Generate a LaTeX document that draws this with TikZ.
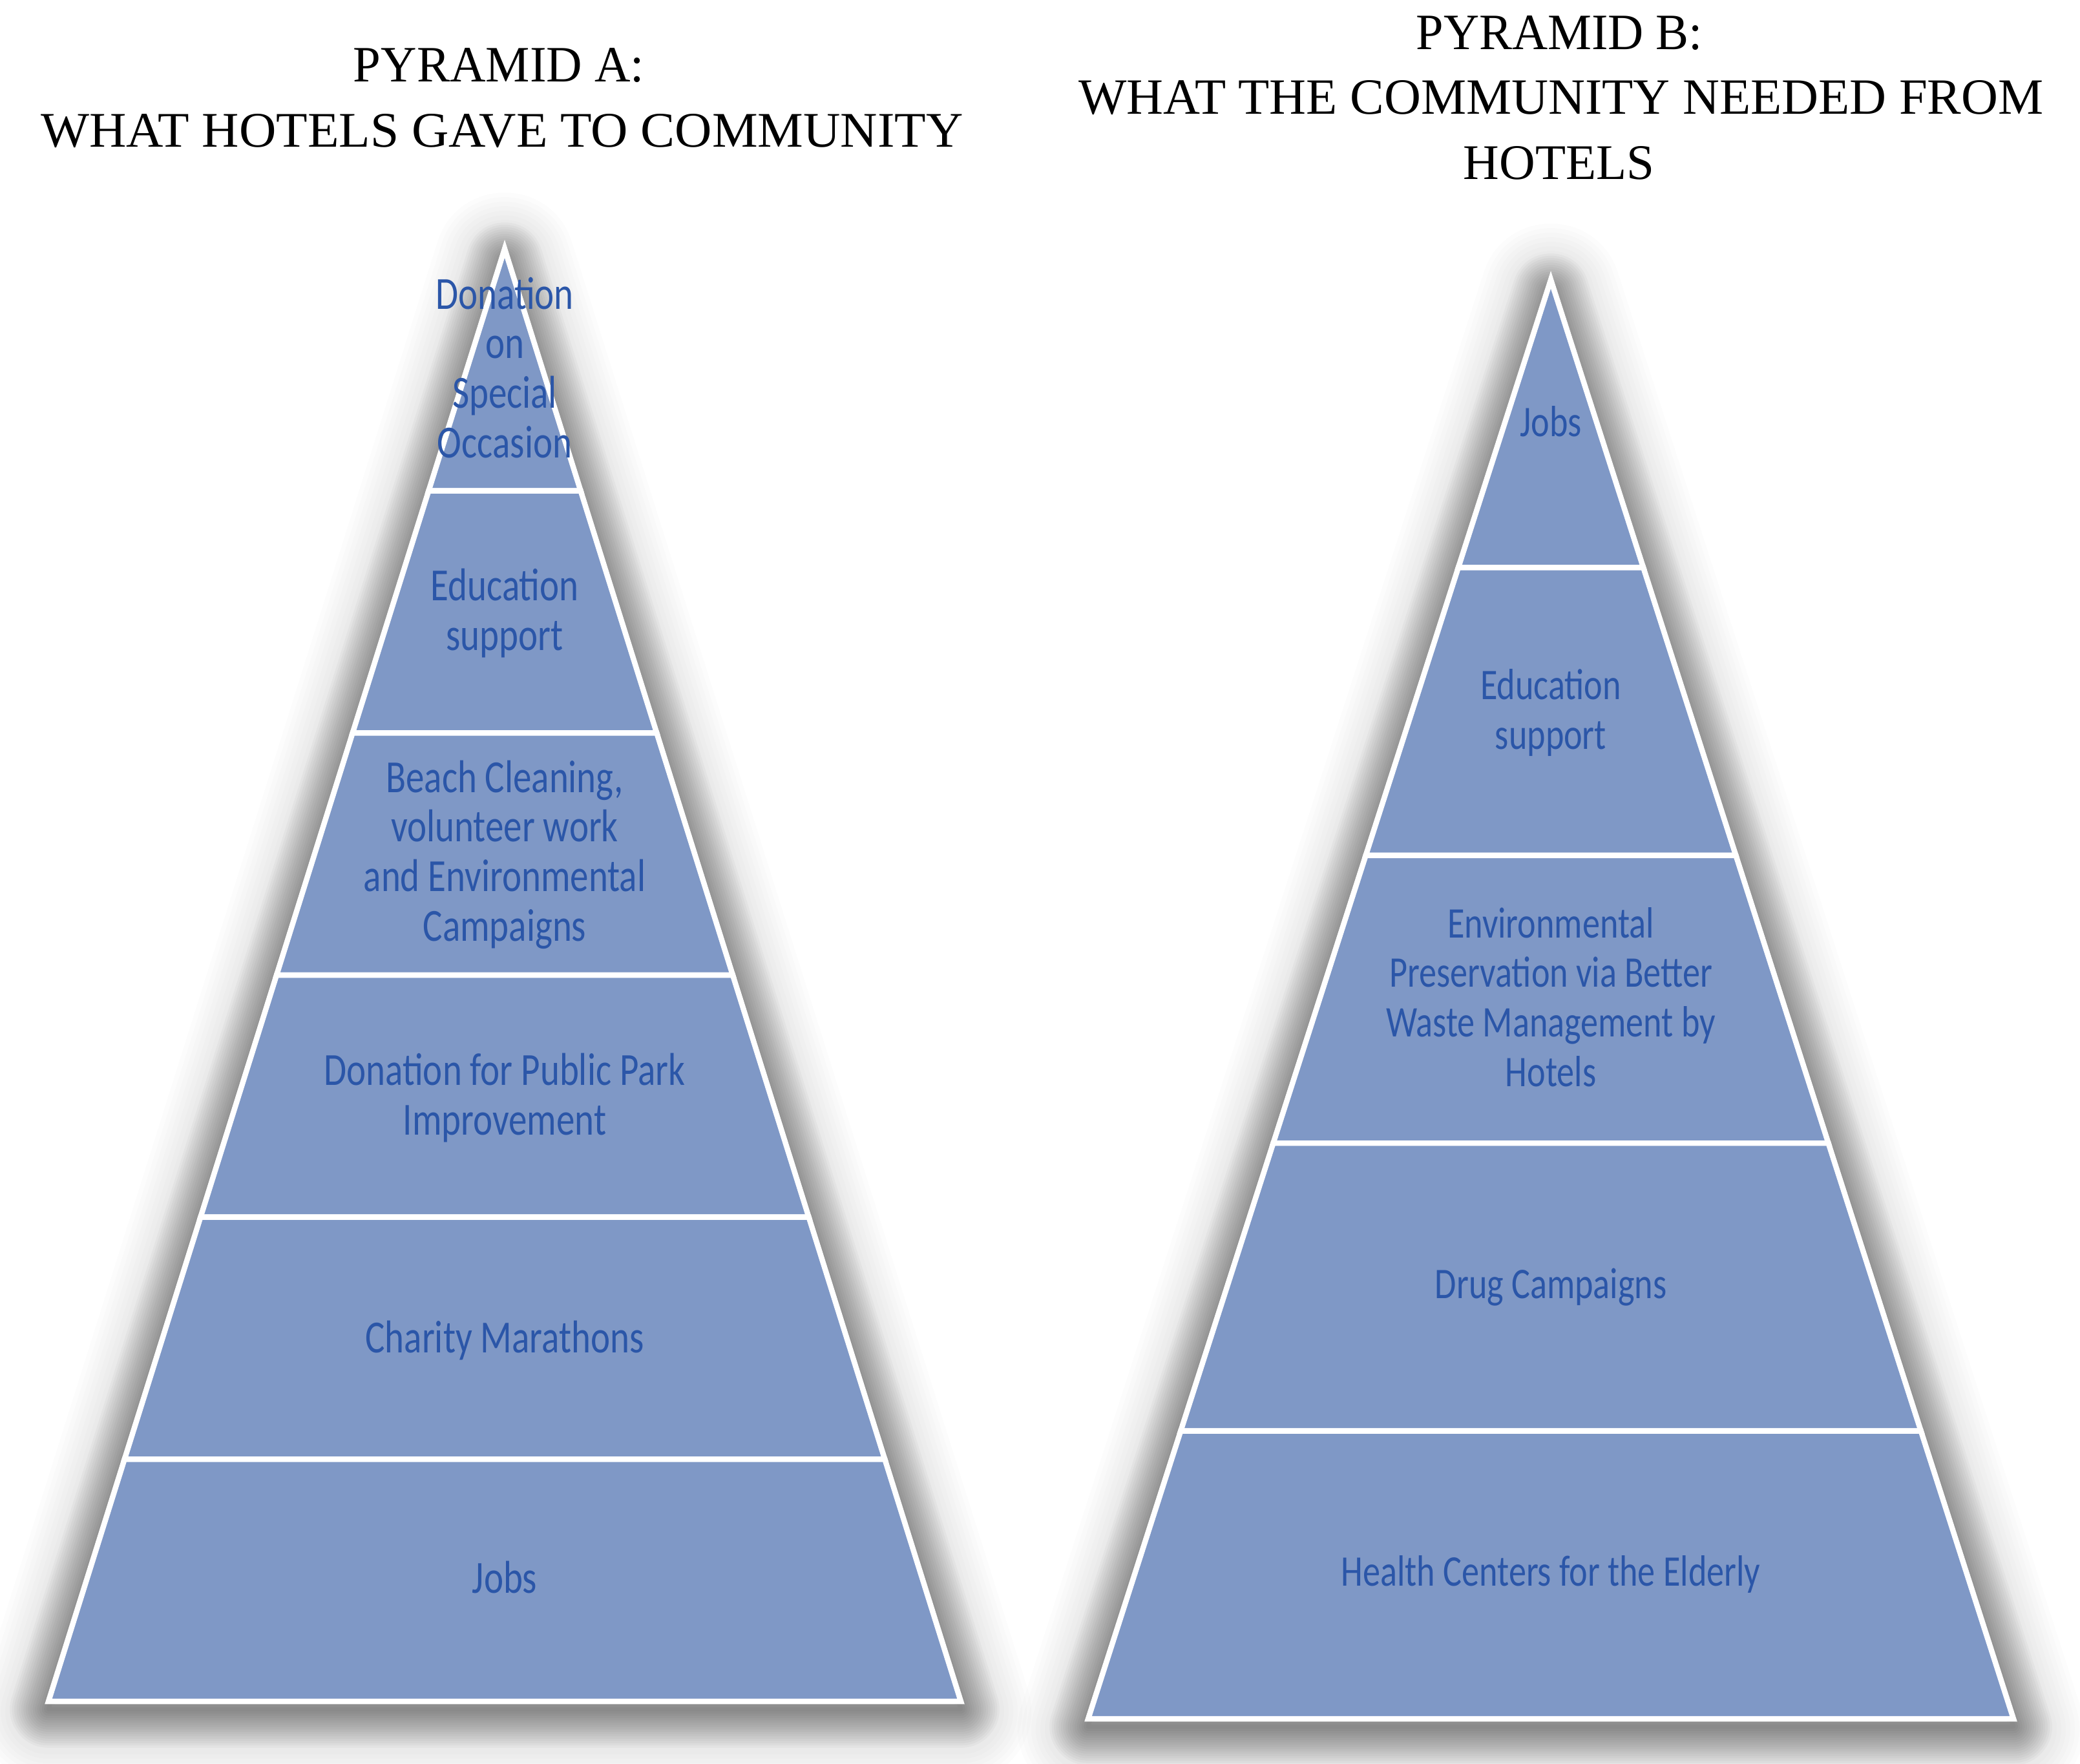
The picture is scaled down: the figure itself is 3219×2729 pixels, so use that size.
\documentclass[tikz,border=0pt]{standalone}
\usepackage{fontspec}
\setmainfont{Liberation Serif}
\newfontfamily\carl{Carlito}
\usepackage{graphicx}
\definecolor{bandfill}{RGB}{127,152,198}
\definecolor{bandtext}{RGB}{43,86,168}
\newcommand{\bandtxt}[2]{\scalebox{1}[1.25]{\carl\fontsize{#1}{17.5pt}\selectfont\begin{tabular}{@{}c@{}}#2\end{tabular}}}
\tikzset{
  bandshape/.style={fill=bandfill, draw=white, line width=2.4pt, line join=miter},
  shadowline/.style={draw=black, opacity=0.028, line join=round},
  softshadow/.style={draw=black, opacity=0.012, line join=round},
  lbl/.style={inner sep=0pt, text=bandtext, anchor=center},
  ttl/.style={inner sep=0pt, anchor=center, text=black}
}
\begin{document}
\begin{tikzpicture}[x=0.01cm, y=-0.01cm]
\useasboundingbox (0,0) rectangle (3219,2729);
\fill[white] (0,0) rectangle (3219,2729);

% ---------- shadows ----------
\foreach \w in {38,42,...,62} {
  \draw[softshadow, line width=\w pt, yshift=-0.15cm] (781,392) -- (1487,2633) -- (75,2633) -- cycle;
  \draw[softshadow, line width=\w pt, yshift=-0.15cm] (2400,440) -- (3116,2660) -- (1684,2660) -- cycle;
}
\foreach \w in {2,4,...,34} {
  \draw[shadowline, line width=\w pt, yshift=-0.12cm] (781,392) -- (1487,2633) -- (75,2633) -- cycle;
  \draw[shadowline, line width=\w pt, yshift=-0.12cm] (2400,440) -- (3116,2660) -- (1684,2660) -- cycle;
}

% ---------- pyramid A bands ----------
\foreach \i in {0,...,5} {
  \pgfmathsetmacro\ya{385+\i*374.667}
  \pgfmathsetmacro\yb{385+(\i+1)*374.667}
  \pgfmathsetmacro\wa{(\ya-385)*0.31406}
  \pgfmathsetmacro\wb{(\yb-385)*0.31406}
  \path[bandshape] (781-\wa,\ya) -- (781+\wa,\ya) -- (781+\wb,\yb) -- (781-\wb,\yb) -- cycle;
}
% ---------- pyramid B bands ----------
\foreach \i in {0,...,4} {
  \pgfmathsetmacro\ya{433+\i*445.4}
  \pgfmathsetmacro\yb{433+(\i+1)*445.4}
  \pgfmathsetmacro\wa{(\ya-433)*0.32151}
  \pgfmathsetmacro\wb{(\yb-433)*0.32151}
  \path[bandshape] (2400-\wa,\ya) -- (2400+\wa,\ya) -- (2400+\wb,\yb) -- (2400-\wb,\yb) -- cycle;
}

% ---------- titles ----------
\node[ttl] (ta1) at (772,101) {\resizebox{4.50cm}{0.52cm}{PYRAMID A:}};
\node[ttl] (ta2) at (777,202.5) {\resizebox{14.26cm}{0.51cm}{WHAT HOTELS GAVE TO COMMUNITY}};
\node[ttl] (tb1) at (2413.5,51) {\resizebox{4.43cm}{0.52cm}{PYRAMID B:}};
\node[ttl] (tb2) at (2416,151) {\resizebox{14.92cm}{0.52cm}{WHAT THE COMMUNITY NEEDED FROM}};
\node[ttl] (tb3) at (2412.5,252.5) {\resizebox{2.95cm}{0.51cm}{HOTELS}};

% ---------- labels A ----------
\node[lbl] (a1) at (781,578) {\bandtxt{16.2pt}{Donation\\on\\Special\\Occasion}};
\node[lbl] (a2) at (781,953) {\bandtxt{16.2pt}{Education\\support}};
\node[lbl] (a3) at (781,1326) {\bandtxt{16.2pt}{Beach Cleaning,\\volunteer work\\and Environmental\\Campaigns}};
\node[lbl] (a4) at (781,1703) {\bandtxt{16.2pt}{Donation for Public Park\\Improvement}};
\node[lbl] (a5) at (781,2078) {\bandtxt{16.2pt}{Charity Marathons}};
\node[lbl] (a6) at (781,2450) {\bandtxt{16.2pt}{Jobs}};

% ---------- labels B ----------
\node[lbl] (b1) at (2400,660) {\bandtxt{15.4pt}{Jobs}};
\node[lbl] (b2) at (2400,1106) {\bandtxt{15.4pt}{Education\\support}};
\node[lbl] (b3) at (2400,1551) {\bandtxt{15.4pt}{Environmental\\Preservation via Better\\Waste Management by\\Hotels}};
\node[lbl] (b4) at (2400,1994) {\bandtxt{15.4pt}{Drug Campaigns}};
\node[lbl] (b5) at (2400,2439) {\bandtxt{15.4pt}{Health Centers for the Elderly}};
\end{tikzpicture}
\end{document}
